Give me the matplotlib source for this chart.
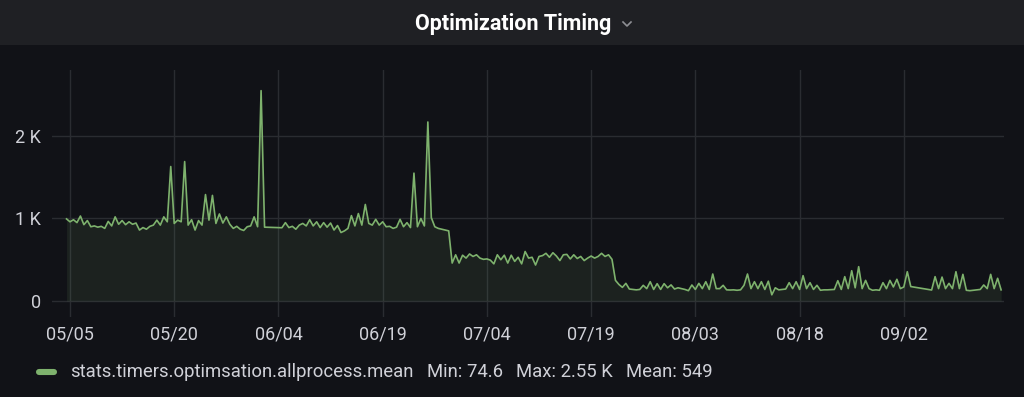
# -*- coding: utf-8 -*-
# plot.py
"""
Optimization Timing panel, grafana dark style
"""
import numpy as np
import pandas as pd
import matplotlib
matplotlib.use("Agg")
import matplotlib.pyplot as plt
from matplotlib.lines import Line2D
from matplotlib.patches import Rectangle


## data: one value every 12 hours, starting 2020-05-04 12:00 (None = no data)
start = "2020-05-04 12:00"
seg_may = [
    995, 960, 985, 950, 1030, 925, 975, 900, 910, 895, 905, 880, 965, 910, 1020,
    930, 975, 925, 960, 930, 945, 860, 890, 870, 905, 920, 980, 920, 1020, 960,
    1630, 940, 980, 960, 1690, 920, 985, 860, 975, 920, 1290, 980, 1280, 940, 1055,
]
seg_june_a = [
    945, 1020, 930, 880, 905, 870, 855, 900, 910, 1020, 900, 2550, 895,
    None, None, None, None, 888, 950, 890, 905, 870, 920, 940, 910, 985, 910,
    960, 890, 950, 895, 945, 860, 915, 830, 850, 880, 1035, 910, 1060, 920,
    1170, 940, 920,
]
seg_june_b = [
    990, 920, 960, 900, 905, 880, 895, 990, 900, 950, 890, 1550, 900, 1000, 910,
    2170, 1010, 900, 880, 870, 860, 850, 460, 560, 460, 555, 520, 570, 540, 560,
    520, 505, 510, 495, 450, 560, 500, 555, 460, 555, 480, 530, 450, 600, 520,
]
seg_july = [
    530, 436, 540, 550, 578, 530, 585, 545, 490, 560, 565, 510, 560, 515, 540,
    490, 520, 545, 520, 540, 578, 540, 560, 505, 250, 200, 165, 214, 145, 140,
    135, 140, 190, 150, 234, 140, 210, 140, 210, 160, 195, 145, 160, 150, 140,
]
seg_aug = [
    125, 194, 140, 214, 150, 234, 140, 327, 150, 150, 190, 135, 133, 135, 130,
    135, 190, 327, 150, 234, 150, 234, 140, 240, 75, 160, 135, 140, 145, 222,
    150, 234, 140, 307, 150, 222, 140, 190, 130, 135, 135, 138, 140, 246,
]
seg_sep = [
    140, 295, 150, 367, 160, 416, 150, 250, 150, 130, 135, 130, 222, 150, 250,
    170, 263, 150, 170, 355, 175, None, None, None, None, None, 133, 295, 150,
    290, 150, 214, 150, 355, 150, 323, 130, 125, 130, 135, 140, 194, 150, 323,
    150, 275, 135,
]

tick_dates = ["2020-05-05", "2020-05-20", "2020-06-04", "2020-06-19", "2020-07-04",
              "2020-07-19", "2020-08-03", "2020-08-18", "2020-09-02"]
tick_labels = ["05/05", "05/20", "06/04", "06/19", "07/04", "07/19", "08/03", "08/18", "09/02"]
y_ticks = [0, 1000, 2000]
y_labels = ["0", "1 K", "2 K"]

series_name = "stats.timers.optimsation.allprocess.mean"
legend_stats = ["Min: 74.6", "Max: 2.55 K", "Mean: 549"]

BG = "#111217"
HEADER = "#1f2024"
GRID = "#2a2c31"
TEXT = "#d0d1d8"
GREEN = "#7eb26d"


def build_series():
    """
    build_series
    """
    values = seg_may + seg_june_a + seg_june_b + seg_july + seg_aug + seg_sep
    idx = pd.date_range(start, periods=len(values), freq="12h")
    s = pd.Series(values, index=idx, dtype=float)
    ## grafana connects null values
    return s.dropna()


def plot_panel(filename):
    """
    plot_panel
    """
    plt.rcParams["font.family"] = ["Roboto", "DejaVu Sans"]
    s = build_series()

    fig = plt.figure(figsize=(10.24, 3.97), dpi=100, facecolor=BG)

    ## header bar
    fig.patches.append(Rectangle((0, 1 - 45 / 397), 1, 45 / 397, transform=fig.transFigure,
                                 facecolor=HEADER, edgecolor="none", zorder=0))
    fig.text(513 / 1024, 1 - 24 / 397, "Optimization Timing", color="white",
             fontsize=15.5, fontweight="bold", ha="center", va="center")
    cx, cy = 627 / 1024, 1 - 25 / 397
    fig.add_artist(Line2D([cx - 4 / 1024, cx, cx + 4 / 1024],
                          [cy + 3 / 397, cy - 1 / 397, cy + 3 / 397],
                          color="#8e8f94", lw=1.2, transform=fig.transFigure))

    ## main axes
    ax = fig.add_axes([52 / 1024, 1 - 317 / 397, 952 / 1024, 247 / 397])
    ax.set_facecolor(BG)
    ax.plot(s.index, s.values, color=GREEN, lw=1.2, zorder=3)
    ax.fill_between(s.index, 0, s.values, color=GREEN, alpha=0.1, lw=0, zorder=2)

    ax.set_xlim(pd.Timestamp("2020-05-02 09:50"), pd.Timestamp("2020-09-16 10:00"))
    ax.set_ylim(-194, 2800)

    ax.set_xticks(pd.to_datetime(tick_dates))
    ax.set_xticklabels(tick_labels)
    ax.set_yticks(y_ticks)
    ax.set_yticklabels(y_labels)
    ax.tick_params(axis="x", length=0, pad=6, labelsize=13, colors=TEXT)
    ax.tick_params(axis="y", length=0, pad=8, labelsize=13, colors=TEXT)

    ## grid: vertical lines span full height, horizontal ones full width
    ax.grid(False)
    for d in pd.to_datetime(tick_dates):
        ax.axvline(d, color=GRID, lw=1, zorder=1)
    for v in y_ticks:
        ax.axhline(v, color=GRID, lw=1, zorder=1)
    for sp in ax.spines.values():
        sp.set_visible(False)

    ## legend
    ly = 1 - 372 / 397
    fig.add_artist(Line2D([39 / 1024, 54 / 1024], [ly, ly], color=GREEN, lw=4.4,
                          solid_capstyle="round", transform=fig.transFigure))
    fig.text(70 / 1024, ly, series_name, color=TEXT, fontsize=13.3, va="center")
    for x, t in zip([427, 516, 626], legend_stats):
        fig.text(x / 1024, ly, t, color=TEXT, fontsize=13.3, va="center")

    plt.savefig(filename, dpi=100, facecolor=BG)
    plt.close(fig)
    return True


if __name__ == "__main__":
    plot_panel("out.png")
